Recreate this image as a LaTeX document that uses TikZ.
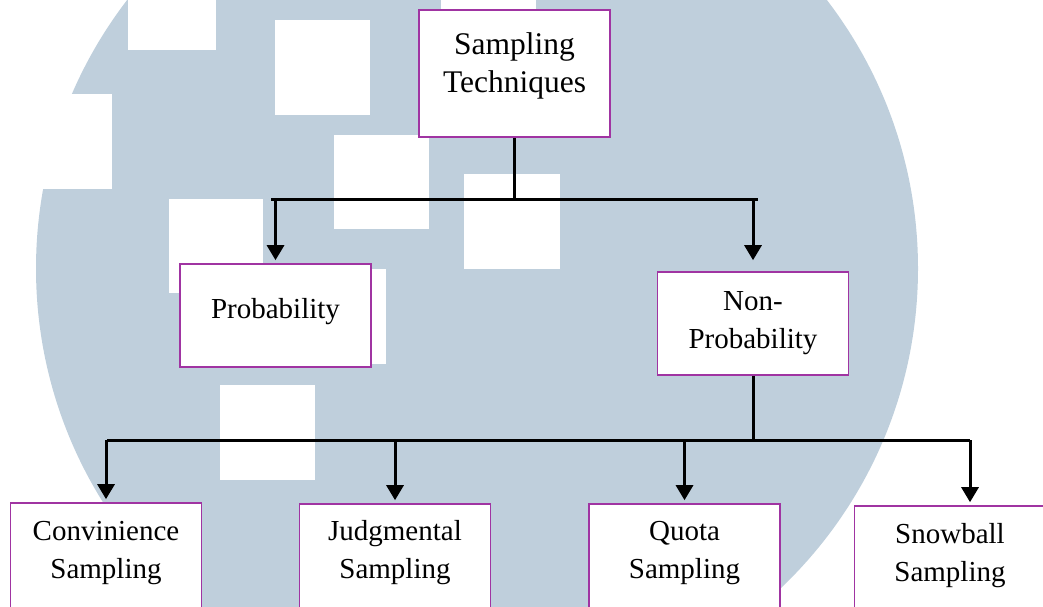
\documentclass[tikz,border=0pt]{standalone}
\usepackage{fontspec}
\setmainfont{Liberation Serif}
\usetikzlibrary{arrows.meta}
\definecolor{haze}{RGB}{191,207,220}
\definecolor{plum}{RGB}{160,52,162}
\tikzstyle{box}=[draw=plum, line width=1.6pt, fill=white, inner sep=0pt, minimum width=191pt]
\tikzstyle{txt}=[align=center, anchor=base, inner sep=0pt, font=\fontsize{29}{38}\selectfont]
\tikzstyle{bigtxt}=[txt, font=\fontsize{31.5}{38}\selectfont]
\tikzstyle{wire}=[line width=3pt]
\tikzstyle{feed}=[wire, -{Triangle[width=17pt,length=15pt]}, shorten >=3pt]

\begin{document}
\begin{tikzpicture}[x=1pt, y=-1pt]
	\useasboundingbox (0,0) rectangle (1043,607);
	\clip (0,0) rectangle (1043,607);
	\fill[haze] (477,268.5) circle (441);
	\fill[white] (-10,94) rectangle (112,189);
	\fill[white] (128,-10) rectangle (216,50);
	\fill[white] (441,-10) rectangle (536,40);
	\fill[white] (275,20) rectangle (370,115);
	\fill[white] (334,135) rectangle (429,229);
	\fill[white] (464,174) rectangle (560,269);
	\fill[white] (169,199) rectangle (263,293);
	\fill[white] (291,269) rectangle (386,364);
	\fill[white] (220,385) rectangle (315,480);

	\node[box, minimum height=127pt] (tech) at (514.5,73.5) {};
	\node[box, minimum height=103pt] (prob) at (275.5,315.5) {};
	\node[box, minimum height=103pt] (nonprob) at (753,323.5) {};
	\node[box, minimum height=127pt] (conv) at (106,566.5) {};
	\node[box, minimum height=127pt] (judg) at (395,567.5) {};
	\node[box, minimum height=127pt] (quota) at (684.5,567.5) {};
	\node[box, minimum height=127pt] (snow) at (950,569.5) {};

	% base anchor sits on the last line
	\node[bigtxt] (tech-t) at (514.5,93) {Sampling\\Techniques};
	\node[txt] (prob-t) at (275.5,318) {Probability};
	\node[txt] (nonprob-t) at (753,348) {Non-\\Probability};
	\node[txt] (conv-t) at (106,578) {Convinience\\Sampling};
	\node[txt] (judg-t) at (395,578) {Judgmental\\Sampling};
	\node[txt] (quota-t) at (684.5,578) {Quota\\Sampling};
	\node[txt] (snow-t) at (950,581) {Snowball\\Sampling};

	\coordinate (busL) at (271,199);
	\coordinate (busR) at (758,199);
	\draw[wire] (tech.south) -- (tech.south |- busL);
	\draw[wire] (busL) -- (busR);
	\draw[feed] (prob.north |- busL) -- (prob.north);
	\draw[feed, shorten >=11pt] (nonprob.north |- busL) -- (nonprob.north);

	\coordinate (bus2L) at (107,440);
	\coordinate (bus2R) at (970,440);
	\draw[wire] (nonprob.south) -- (nonprob.south |- bus2L);
	\draw[wire] (bus2L) -- (bus2R);
	\draw[feed] (conv.north |- bus2L) -- (conv.north);
	\draw[feed] (judg.north |- bus2L) -- (judg.north);
	\draw[feed] (quota.north |- bus2L) -- (quota.north);
	\draw[feed] (bus2R) -- (bus2R |- snow.north);
\end{tikzpicture}
\end{document}
